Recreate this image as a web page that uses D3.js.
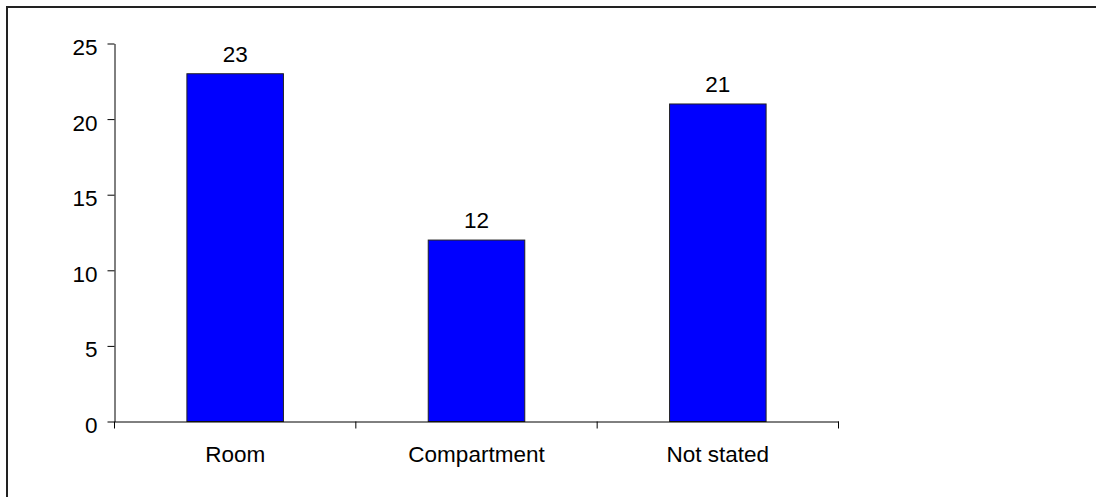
<!DOCTYPE html>
<html>
<head>
<meta charset="utf-8">
<script src="https://cdn.jsdelivr.net/npm/d3@7"></script>
<style>
  html, body { margin: 0; padding: 0; background: #fff; }
  svg { display: block; }
  text { font-family: "Liberation Sans", Arial, sans-serif; fill: #000; }
</style>
</head>
<body>
<svg id="chart" width="1096" height="497"></svg>
<script>
// Location of the fire
const categories = ["Room", "Compartment", "Not stated"];
const counts = [23, 12, 21];
const yTicks = [0, 5, 10, 15, 20, 25];

const fontSize = 22.5;
const svg = d3.select("#chart");

// chart frame (right and bottom edges run past the page)
svg.append("rect")
  .attr("x", 7).attr("y", 7)
  .attr("width", 1200).attr("height", 600)
  .attr("fill", "none")
  .attr("stroke", "#222")
  .attr("stroke-width", 2);

const plot = { left: 114.5, right: 838.5, top: 43.5, bottom: 421.5 };

const x = d3.scaleBand()
  .domain(categories)
  .range([plot.left, plot.right])
  .padding(0);

const y = d3.scaleLinear()
  .domain([0, 25])
  .range([plot.bottom, plot.top]);

const barW = x.bandwidth() * 0.4;

// bars
svg.append("g")
  .selectAll("rect")
  .data(categories)
  .join("rect")
  .attr("x", (d) => x(d) + (x.bandwidth() - barW) / 2)
  .attr("y", (d, i) => y(counts[i]))
  .attr("width", barW)
  .attr("height", (d, i) => y(0) - y(counts[i]))
  .attr("fill", "#0000ff")
  .attr("stroke", "#222")
  .attr("stroke-width", 1);

// value labels
svg.append("g")
  .selectAll("text")
  .data(categories)
  .join("text")
  .attr("x", (d) => x(d) + x.bandwidth() / 2)
  .attr("y", (d, i) => y(counts[i]) - 12)
  .attr("text-anchor", "middle")
  .attr("font-size", fontSize)
  .text((d, i) => counts[i]);

// y axis
const yAxis = svg.append("g")
  .attr("transform", `translate(${plot.left},0)`)
  .call(d3.axisLeft(y).tickValues(yTicks).tickSize(7).tickPadding(10).tickSizeOuter(0));
yAxis.select(".domain").attr("stroke", "#000");
yAxis.selectAll(".tick line").attr("stroke", "#000");
yAxis.selectAll(".tick text")
  .attr("font-size", fontSize)
  .attr("font-family", "Liberation Sans, Arial, sans-serif")
  .attr("fill", "#000")
  .attr("dy", "0.49em");

// x axis: category labels
const xAxis = svg.append("g")
  .attr("transform", `translate(0,${plot.bottom})`)
  .call(d3.axisBottom(x).tickSize(0).tickPadding(24.5).tickSizeOuter(0));
xAxis.select(".domain").attr("stroke", "#000");
xAxis.selectAll(".tick text")
  .attr("font-size", fontSize)
  .attr("font-family", "Liberation Sans, Arial, sans-serif")
  .attr("fill", "#000");

// x axis tick marks at category boundaries
const bounds = [x(categories[0])].concat(categories.map((c) => x(c) + x.bandwidth()));
xAxis.selectAll("line.sep")
  .data(bounds)
  .join("line")
  .attr("class", "sep")
  .attr("x1", (d) => d).attr("x2", (d) => d)
  .attr("y1", 0).attr("y2", 7)
  .attr("stroke", "#000");
</script>
</body>
</html>
